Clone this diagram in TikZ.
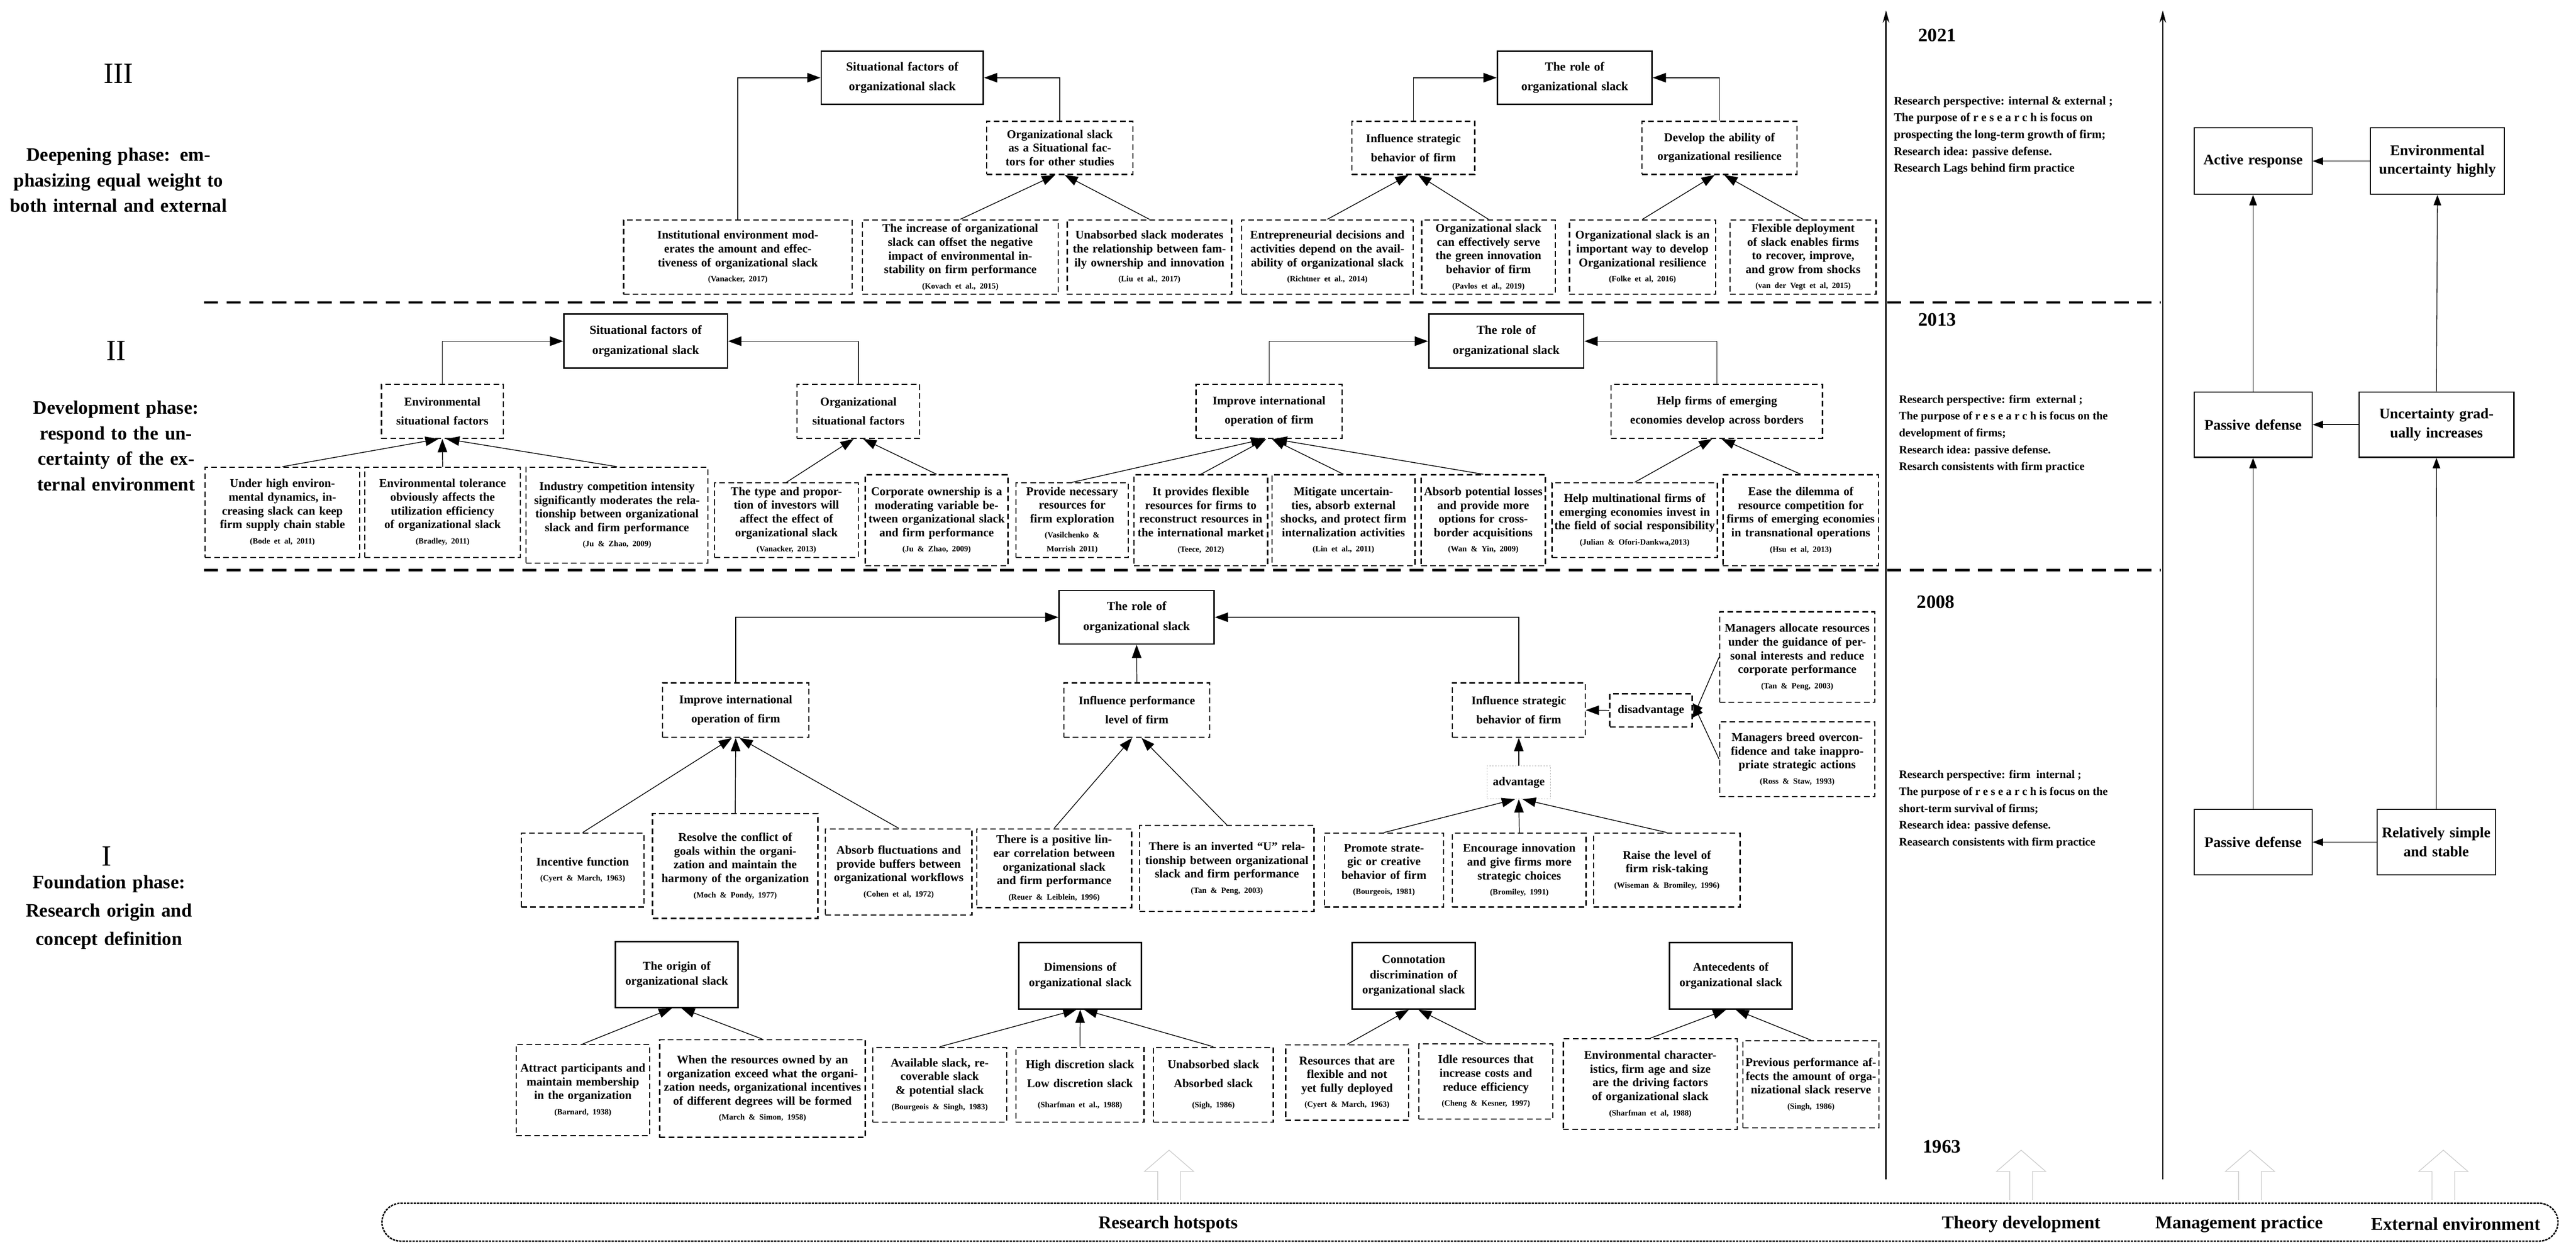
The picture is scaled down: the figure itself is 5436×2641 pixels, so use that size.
\documentclass[tikz,border=0pt]{standalone}
\usepackage{fontspec}
\setmainfont{Liberation Serif}
\usetikzlibrary{arrows.meta}
\newcommand\ct[1]{\\[3pt]{\fontsize{17}{22}\selectfont (#1)}}
\newcommand\ls[1]{{\addfontfeature{LetterSpace=25}#1}}
\newcommand\bx[7]{%
 \pgfmathsetmacro\cxx{(#3+#5)/2}\pgfmathsetmacro\cyy{(#4+#6)/2}%
 \pgfmathsetmacro\ww{#5-#3}\pgfmathsetmacro\hh{#6-#4}\pgfmathsetmacro\tw{#5-#3-10}%
 \node[#2, minimum width=\ww pt, minimum height=\hh pt, text width=\tw pt] (#1) at (\cxx,\cyy) {#7};}
\begin{document}
\begin{tikzpicture}[x=1pt,y=-1pt,
 db/.style={draw, line width=2.5pt, dash pattern=on 12pt off 7pt, align=center, inner sep=0pt, font=\bfseries\fontsize{25}{29}\selectfont},
 dbw/.style={db, font=\bfseries\fontsize{25}{40}\selectfont},
 hb/.style={draw, line width=3pt, align=center, inner sep=0pt, font=\bfseries\fontsize{26}{42}\selectfont},
 pb/.style={draw, line width=2.5pt, align=center, inner sep=0pt, font=\bfseries\fontsize{31}{40}\selectfont},
 arr/.style={line width=1.6pt, -{Triangle[length=28pt,width=20pt]}},
 arr2/.style={line width=1.4pt, -{Triangle[length=22pt,width=16pt]}},
 sep/.style={line width=5pt, dash pattern=on 30pt off 18pt},
 plab/.style={align=center, font=\bfseries\fontsize{40}{54}\selectfont, text width=460pt},
 rom/.style={font=\fontsize{62}{62}\selectfont},
 yr/.style={font=\bfseries\fontsize{40}{40}\selectfont},
 rtx/.style={align=left, anchor=north west, font=\bfseries\fontsize{25}{35.5}\selectfont},
 hol/.style={draw=gray!40, line width=1.5pt},
 blab/.style={font=\bfseries\fontsize{38}{38}\selectfont}]
\useasboundingbox (0,0) rectangle (5436,2641);
\fill[white] (0,0) rectangle (5436,2641);

% ---------- phase labels
\node[rom] (r3) at (250,155) {III};
\node[plab] (p3) at (250,380) {Deepening phase: emphasizing equal weight to both internal and external};
\node[rom] (r2) at (245,740) {II};
\node[plab] (p2) at (245,941) {Development phase: respond to the uncertainty of the external environment};
\node[rom] (r1) at (225,1807) {I};
\node[plab, font=\bfseries\fontsize{40}{60}\selectfont] (p1) at (230,1925) {Foundation phase: Research origin and concept definition};

% ---------- separators
\coordinate (s1a) at (430,638); \coordinate (s1b) at (4560,638);
\coordinate (s2a) at (430,1203); \coordinate (s2b) at (4560,1203);
\draw[sep] (s1a) -- (s1b);
\draw[sep] (s2a) -- (s2b);

% ---------- phase III
\bx{sitA}{hb}{1733}{108}{2075}{220}{Situational factors of\\organizational slack}
\bx{othr}{db}{2082}{256}{2391}{368}{Organizational slack as a Situational factors for other studies}
\bx{inst}{db}{1316}{464}{1798}{621}{Institutional environment moderates the amount and effectiveness of organizational slack\ct{Vanacker, 2017}}
\bx{incr}{db}{1820}{464}{2233}{621}{The increase of organizational slack can offset the negative impact of environmental instability on firm performance\ct{Kovach et al., 2015}}
\bx{unab}{db}{2252}{464}{2599}{621}{Unabsorbed slack moderates the relationship between family ownership and innovation\ct{Liu et al., 2017}}
\bx{entr}{db}{2620}{464}{2982}{621}{Entrepreneurial decisions and activities depend on the availability of organizational slack\ct{Richtner et al., 2014}}
\bx{pavl}{db}{3000}{464}{3282}{621}{Organizational slack can effectively serve the green innovation behavior of firm\ct{Pavlos et al., 2019}}
\bx{folk}{db}{3312}{464}{3620}{621}{Organizational slack is an important way to develop Organizational resilience\ct{Folke et al, 2016}}
\bx{vegt}{db}{3651}{464}{3959}{621}{Flexible deployment of slack enables firms to recover, improve, and grow from shocks\ct{van der Vegt et al, 2015}}
\bx{roleA}{hb}{3160}{108}{3486}{220}{The role of\\organizational slack}
\bx{infA}{dbw}{2853}{256}{3112}{368}{Influence strategic\\behavior of firm}
\bx{devA}{dbw}{3465}{256}{3792}{368}{Develop the ability of\\organizational resilience}
\draw[arr] (inst.north) |- (sitA.west);
\draw[arr] (othr.north) |- (sitA.east);
\draw[arr] (incr.north) -- ([xshift=-10pt]othr.south);
\draw[arr] (unab.north) -- ([xshift=10pt]othr.south);
\draw[arr] (infA.north) |- (roleA.west);
\draw[arr] (devA.north) |- (roleA.east);
\draw[arr] (entr.north) -- ([xshift=-10pt]infA.south);
\draw[arr] (pavl.north) -- ([xshift=10pt]infA.south);
\draw[arr] (folk.north) -- ([xshift=-10pt]devA.south);
\draw[arr] (vegt.north) -- ([xshift=10pt]devA.south);

% ---------- phase II
\bx{sitB}{hb}{1190}{663}{1535}{777}{Situational factors of\\organizational slack}
\bx{envB}{dbw}{805}{811}{1062}{925}{Environmental\\situational factors}
\bx{orgB}{dbw}{1682}{811}{1941}{925}{Organizational\\situational factors}
\bx{undr}{db}{433}{986}{759}{1176}{Under high environmental dynamics, increasing slack can keep firm supply chain stable\ct{Bode et al, 2011}}
\bx{tolr}{db}{770}{986}{1098}{1176}{Environmental tolerance obviously affects the utilization efficiency of organizational slack\ct{Bradley, 2011}}
\bx{indu}{db}{1110}{986}{1494}{1188}{Industry competition intensity significantly moderates the relationship between organizational slack and firm performance\ct{Ju \& Zhao, 2009}}
\bx{type}{db}{1508}{1019}{1811}{1176}{The type and proportion of investors will affect the effect of organizational slack\ct{Vanacker, 2013}}
\bx{corp}{db}{1826}{1002}{2127}{1194}{Corporate ownership is a moderating variable between organizational slack and firm performance\ct{Ju \& Zhao, 2009}}
\bx{prov}{db}{2144}{1019}{2381}{1176}{Provide necessary resources for firm exploration\ct{Vasilchenko \& Morrish 2011}}
\bx{flex}{db}{2393}{1002}{2675}{1194}{It provides flexible resources for firms to reconstruct resources in the international market\ct{Teece, 2012}}
\bx{miti}{db}{2684}{1002}{2986}{1194}{Mitigate uncertainties, absorb external shocks, and protect firm internalization activities\ct{Lin et al., 2011}}
\bx{absb}{db}{2999}{1002}{3261}{1194}{Absorb potential losses and provide more options for cross-border acquisitions\ct{Wan \& Yin, 2009}}
\bx{mult}{db}{3275}{1019}{3624}{1176}{Help multinational firms of emerging economies invest in the field of social responsibility\ct{Julian \& Ofori-Dankwa,2013}}
\bx{ease}{db}{3636}{1002}{3964}{1194}{Ease the dilemma of resource competition for firms of emerging economies in transnational operations\ct{Hsu et al, 2013}}
\bx{impB}{dbw}{2524}{811}{2832}{925}{Improve international\\operation of firm}
\bx{roleB}{hb}{3015}{663}{3342}{777}{The role of\\organizational slack}
\bx{helpB}{dbw}{3400}{811}{3846}{925}{Help firms of emerging\\economies develop across borders}
\draw[arr] (envB.north) |- (sitB.west);
\draw[arr] (orgB.north) |- (sitB.east);
\draw[arr] (undr.north) -- ([xshift=-8pt]envB.south);
\draw[arr] (tolr.north) -- (envB.south);
\draw[arr] (indu.north) -- ([xshift=8pt]envB.south);
\draw[arr] (type.north) -- ([xshift=-10pt]orgB.south);
\draw[arr] (corp.north) -- ([xshift=10pt]orgB.south);
\draw[arr] (impB.north) |- (roleB.west);
\draw[arr] (helpB.north) |- (roleB.east);
\draw[arr] (prov.north) -- ([xshift=-10pt]impB.south);
\draw[arr] (flex.north) -- ([xshift=-6pt]impB.south);
\draw[arr] (miti.north) -- ([xshift=6pt]impB.south);
\draw[arr] (absb.north) -- ([xshift=10pt]impB.south);
\draw[arr] (mult.north) -- ([xshift=-10pt]helpB.south);
\draw[arr] (ease.north) -- ([xshift=10pt]helpB.south);

% ---------- phase I
\bx{roleC}{hb}{2235}{1246}{2562}{1359}{The role of\\organizational slack}
\bx{impC}{dbw}{1398}{1441}{1707}{1556}{Improve international\\operation of firm}
\bx{perfC}{dbw}{2245}{1441}{2553}{1556}{Influence performance\\level of firm}
\bx{strC}{dbw}{3065}{1441}{3345}{1556}{Influence strategic\\behavior of firm}
\bx{dis}{db}{3397}{1464}{3571}{1534}{disadvantage}
\bx{adv}{db, draw=gray!60, line width=1pt, dash pattern=on 3pt off 3pt}{3138}{1616}{3272}{1686}{advantage}
\bx{allo}{db}{3629}{1291}{3956}{1482}{Managers allocate resources under the guidance of personal interests and reduce corporate performance\ct{Tan \& Peng, 2003}}
\bx{bree}{db}{3629}{1523}{3956}{1681}{Managers breed overconfidence and take inappropriate strategic actions\ct{Ross \& Staw, 1993}}
\bx{ince}{db}{1100}{1758}{1359}{1914}{Incentive function\ct{Cyert \& March, 1963}}
\bx{reso}{db}{1377}{1717}{1726}{1938}{Resolve the conflict of goals within the organization and maintain the harmony of the organization\ct{Moch \& Pondy, 1977}}
\bx{fluc}{db}{1742}{1749}{2051}{1931}{Absorb fluctuations and provide buffers between organizational workflows\ct{Cohen et al, 1972}}
\bx{posi}{db}{2061}{1749}{2388}{1915}{There is a positive linear correlation between organizational slack and firm performance\ct{Reuer \& Leiblein, 1996}}
\bx{invu}{db}{2405}{1742}{2773}{1923}{There is an inverted ``U'' relationship between organizational slack and firm performance\ct{Tan \& Peng, 2003}}
\bx{prom}{db}{2795}{1758}{3046}{1914}{Promote strategic or creative behavior of firm\ct{Bourgeois, 1981}}
\bx{enco}{db}{3065}{1758}{3347}{1914}{Encourage innovation and give firms more strategic choices\ct{Bromiley, 1991}}
\bx{rais}{db}{3363}{1758}{3672}{1914}{Raise the level of firm risk-taking\ct{Wiseman \& Bromiley, 1996}}
\draw[arr] (impC.north) |- (roleC.west);
\draw[arr] (strC.north) |- (roleC.east);
\draw[arr] (perfC.north) -- (roleC.south);
\draw[arr] (ince.north) -- ([xshift=-8pt]impC.south);
\draw[arr] (reso.north) -- (impC.south);
\draw[arr] (fluc.north) -- ([xshift=8pt]impC.south);
\draw[arr] (posi.north) -- ([xshift=-10pt]perfC.south);
\draw[arr] (invu.north) -- ([xshift=10pt]perfC.south);
\draw[arr] (prom.north) -- ([xshift=-8pt]adv.south);
\draw[arr] (enco.north) -- (adv.south);
\draw[arr] (rais.north) -- ([xshift=8pt]adv.south);
\draw[arr] (adv.north) -- (strC.south);
\draw[arr] (dis.west) -- (strC.east);
\draw[arr] (allo.west) -- ([yshift=-16pt]dis.east);
\draw[arr] (bree.west) -- ([yshift=16pt]dis.east);

% ---------- concept row
\bx{orig}{hb, font=\bfseries\fontsize{25}{32}\selectfont}{1299}{1987}{1557}{2126}{The origin of\\organizational slack}
\bx{dime}{hb, font=\bfseries\fontsize{25}{32}\selectfont}{2150}{1989}{2409}{2129}{Dimensions of\\organizational slack}
\bx{conn}{hb, font=\bfseries\fontsize{25}{32}\selectfont}{2853}{1989}{3113}{2129}{Connotation\\discrimination of\\organizational slack}
\bx{ante}{hb, font=\bfseries\fontsize{25}{32}\selectfont}{3523}{1989}{3782}{2129}{Antecedents of\\organizational slack}
\bx{attr}{db}{1089}{2204}{1371}{2396}{Attract participants and maintain membership in the organization\ct{Barnard, 1938}}
\bx{when}{db}{1392}{2194}{1826}{2400}{When the resources owned by an organization exceed what the organization needs, organizational incentives of different degrees will be formed\ct{March \& Simon, 1958}}
\bx{avai}{db}{1842}{2210}{2124}{2368}{Available slack, recoverable slack \& potential slack\ct{Bourgeois \& Singh, 1983}}
\bx{high}{db, font=\bfseries\fontsize{25}{40}\selectfont}{2144}{2210}{2414}{2368}{High discretion slack\\Low discretion slack\ct{Sharfman et al., 1988}}
\bx{unbs}{db, font=\bfseries\fontsize{25}{40}\selectfont}{2434}{2210}{2687}{2368}{Unabsorbed slack\\Absorbed slack\ct{Sigh, 1986}}
\bx{flxr}{db}{2713}{2205}{2972}{2364}{Resources that are flexible and not yet fully deployed\ct{Cyert \& March, 1963}}
\bx{idle}{db}{2994}{2203}{3277}{2361}{Idle resources that increase costs and reduce efficiency\ct{Cheng \& Kesner, 1997}}
\bx{envc}{db}{3299}{2192}{3666}{2383}{Environmental characteristics, firm age and size are the driving factors of organizational slack\ct{Sharfman et al, 1988}}
\bx{prev}{db}{3678}{2196}{3965}{2380}{Previous performance affects the amount of organizational slack reserve\ct{Singh, 1986}}
\draw[arr] (attr.north) -- ([xshift=-10pt]orig.south);
\draw[arr] (when.north) -- ([xshift=10pt]orig.south);
\draw[arr] (avai.north) -- ([xshift=-8pt]dime.south);
\draw[arr] (high.north) -- (dime.south);
\draw[arr] (unbs.north) -- ([xshift=8pt]dime.south);
\draw[arr] (flxr.north) -- ([xshift=-10pt]conn.south);
\draw[arr] (idle.north) -- ([xshift=10pt]conn.south);
\draw[arr] (envc.north) -- ([xshift=-10pt]ante.south);
\draw[arr] (prev.north) -- ([xshift=10pt]ante.south);

% ---------- timelines
\coordinate (t1b) at (3980,2489); \coordinate (t1t) at (3980,22);
\coordinate (t2b) at (4564,2489); \coordinate (t2t) at (4564,22);
\draw[line width=3pt, -{Stealth[length=26pt,width=14pt]}] (t1b) -- (t1t);
\draw[line width=3pt, -{Stealth[length=26pt,width=14pt]}] (t2b) -- (t2t);
\node[yr] (y21) at (4088,74) {2021};
\node[yr] (y13) at (4088,675) {2013};
\node[yr] (y08) at (4085,1270) {2008};
\node[yr] (y63) at (4098,2420) {1963};
\node[rtx] (tx3) at (3993,200) {Research perspective: internal \& external ;\\The purpose of \ls{research} is focus on\\prospecting the long-term growth of firm;\\Research idea: passive defense.\\Research Lags behind firm practice};
\node[rtx, font=\bfseries\fontsize{24}{35.5}\selectfont] (tx2) at (4004,830) {Research perspective: firm\ \ external ;\\The purpose of \ls{research} is focus on the\\development of firms;\\Research idea: passive defense.\\Resarch consistents with firm practice};
\node[rtx, font=\bfseries\fontsize{24}{35.5}\selectfont] (tx1) at (4004,1622) {Research perspective: firm\ \ internal ;\\The purpose of \ls{research} is focus on the\\short-term survival of firms;\\Research idea: passive defense.\\Reasearch consistents with firm practice};

% ---------- practice / environment
\bx{act}{pb}{4630}{270}{4879}{410}{Active response}
\bx{envh}{pb}{5002}{270}{5285}{410}{Environmental uncertainty highly}
\bx{pd2}{pb}{4630}{827}{4879}{965}{Passive defense}
\bx{unc}{pb}{4978}{827}{5305}{965}{Uncertainty gradually increases}
\bx{pd1}{pb}{4630}{1708}{4879}{1846}{Passive defense}
\bx{rel}{pb}{5016}{1708}{5266}{1846}{Relatively simple and stable}
\draw[arr2] (envh.west) -- (act.east);
\draw[arr2] (unc.west) -- (pd2.east);
\draw[arr2] (rel.west) -- (pd1.east);
\draw[arr2] (pd2.north) -- (act.south);
\draw[arr2] (pd1.north) -- (pd2.south);
\draw[arr2] (unc.north) -- (envh.south);
\draw[arr2] (rel.north) -- (unc.south);

% ---------- hollow arrows
\foreach \hx in {2467,4265,4748,5156}{
 \draw[hol] (\hx-24,2532) -- (\hx-24,2472) -- (\hx-52,2472) -- (\hx,2427) -- (\hx+52,2472) -- (\hx+24,2472) -- (\hx+24,2532);
}

% ---------- bottom band
\node[draw, line width=3pt, dash pattern=on 5pt off 2pt, rounded corners=40pt, minimum width=4592pt, minimum height=80pt] (band) at (3102,2579) {};
\node[blab] (b1) at (2465,2583) {Research hotspots};
\node[blab] (b2) at (4265,2583) {Theory development};
\node[blab] (b3) at (4725,2583) {Management practice};
\node[blab] (b4) at (5182,2583) {External environment};
\end{tikzpicture}
\end{document}
